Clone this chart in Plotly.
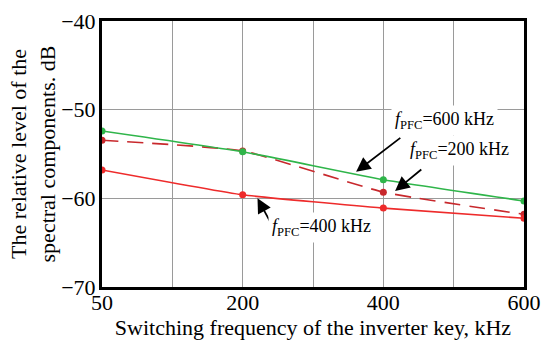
import plotly.graph_objects as go

# Data
x_labels = ["50", "100", "200", "300", "400", "500", "600"]
x_pos = [0, 2, 4, 6]  # positions of 50, 200, 400, 600 kHz on the evenly spaced axis
f600 = [-52.4, -54.75, -57.9, -60.3]
f200 = [-53.45, -54.65, -59.3, -61.8]
f400 = [-56.8, -59.6, -61.1, -62.25]
y_ticks = [-70, -60, -50, -40]

GREEN = "#2fb54a"
RED = "#ee2b2b"
DRED = "#c8282c"
FONT = "Liberation Serif, Times New Roman, serif"

fig = go.Figure()
fig.add_trace(go.Scatter(x=x_pos, y=f200, mode="lines+markers",
                         line=dict(color=DRED, width=1.6, dash="16px,9px", shape="spline", smoothing=0.4),
                         marker=dict(color=DRED, size=7, symbol="circle")))
fig.add_trace(go.Scatter(x=x_pos, y=f600, mode="lines+markers",
                         line=dict(color=GREEN, width=1.6, shape="spline", smoothing=0.4),
                         marker=dict(color=GREEN, size=7)))
fig.add_trace(go.Scatter(x=x_pos, y=f400, mode="lines+markers",
                         line=dict(color=RED, width=1.6, shape="spline", smoothing=0.4),
                         marker=dict(color=RED, size=7)))

def arrow(x, y, ax, ay):
    fig.add_annotation(x=x, y=y, ax=ax, ay=ay, xref="x", yref="y", axref="x", ayref="y",
                       text="", showarrow=True, arrowhead=2, arrowsize=1.6, arrowwidth=1.8, arrowcolor="black")

arrow(3.613, -57.0, 4.263, -53.05)
arrow(4.167, -59.17, 4.561, -56.61)
arrow(2.211, -60.0, 2.415, -63.0)

def label(x, y, txt):
    fig.add_annotation(x=x, y=y, xref="x", yref="y", text=txt, showarrow=False,
                       bgcolor="white", borderpad=3,
                       font=dict(family=FONT, size=18, color="black"))

label(4.87, -51.2, "<i>f</i><sub>PFC</sub>=600 kHz")
label(5.08, -54.6, "<i>f</i><sub>PFC</sub>=200 kHz")
label(3.12, -63.3, "<i>f</i><sub>PFC</sub>=400 kHz")

fig.update_layout(
    width=542, height=341,
    margin=dict(l=102, r=18, t=21, b=54, autoexpand=False),
    plot_bgcolor="white", paper_bgcolor="white",
    showlegend=False,
    font=dict(family=FONT, color="black"),
    xaxis=dict(range=[0, 6], tickmode="array", tickvals=[0, 2, 4, 6], ticktext=["50", "200", "400", "600"],
               showgrid=True, gridcolor="#9a9a9a", gridwidth=1, automargin=False,
               showline=True, linecolor="black", linewidth=3, mirror=True,
               tickfont=dict(family=FONT, size=22), ticks="", ticklabelstandoff=-6,
               title=dict(text="Switching frequency of the inverter key, kHz", font=dict(family=FONT, size=22), standoff=0),
               zeroline=False,
               minor=dict(tickvals=[1, 3, 5], showgrid=True, gridcolor="#9a9a9a", gridwidth=1)),
    yaxis=dict(range=[-70, -40], tickmode="array", tickvals=y_ticks,
               ticktext=["\u221270", "\u221260", "\u221250", "\u221240"],
               showgrid=True, gridcolor="#9a9a9a", gridwidth=1, automargin=False,
               showline=True, linecolor="black", linewidth=3, mirror=True,
               tickfont=dict(family=FONT, size=22), ticks="", ticklabelstandoff=-1,
               title=dict(text="The relative level of the<br>spectral components. dB", font=dict(family=FONT, size=22), standoff=0),
               zeroline=False),
)

fig.write_html("out.html")
